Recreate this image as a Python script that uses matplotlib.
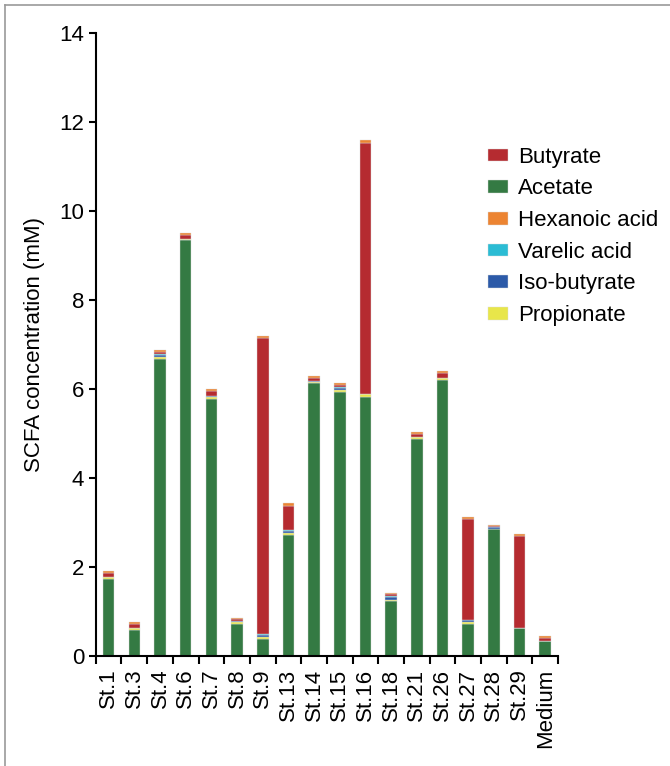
import numpy as np
import matplotlib.pyplot as plt
from matplotlib.lines import Line2D

plt.rcParams['font.family'] = ['Liberation Sans', 'DejaVu Sans']

# Штами
strains = ['St.1', 'St.3', 'St.4', 'St.6', 'St.7', 'St.8', 'St.9', 'St.13', 'St.14',
           'St.15', 'St.16', 'St.18', 'St.21', 'St.26', 'St.27', 'St.28', 'St.29', 'Medium']

# Концентрації (mM), знизу вгору
acetate    = [1.72, 0.58, 6.68, 9.35, 5.78, 0.73, 0.38, 2.73, 6.13, 5.93, 5.83, 1.23, 4.88, 6.20, 0.72, 2.85, 0.63, 0.33]
propionate = [0.05, 0.04, 0.04, 0.03, 0.04, 0.03, 0.05, 0.04, 0.04, 0.04, 0.06, 0.04, 0.04, 0.04, 0.04, 0.01, 0.01, 0.01]
isobutyr   = [0.01, 0.01, 0.05, 0.00, 0.03, 0.02, 0.05, 0.04, 0.02, 0.06, 0.01, 0.06, 0.01, 0.02, 0.04, 0.04, 0.00, 0.00]
varelic    = [0.00, 0.00, 0.02, 0.00, 0.00, 0.00, 0.01, 0.02, 0.00, 0.02, 0.00, 0.02, 0.00, 0.00, 0.02, 0.00, 0.00, 0.00]
butyrate   = [0.09, 0.09, 0.05, 0.08, 0.10, 0.05, 6.65, 0.55, 0.06, 0.05, 5.64, 0.04, 0.06, 0.10, 2.27, 0.02, 2.06, 0.06]
hexanoic   = [0.04, 0.05, 0.04, 0.05, 0.05, 0.03, 0.05, 0.06, 0.04, 0.03, 0.05, 0.03, 0.04, 0.05, 0.04, 0.02, 0.04, 0.04]

series = [
    ('Acetate', acetate, '#347a43'),
    ('Propionate', propionate, '#e8e64a'),
    ('Iso-butyrate', isobutyr, '#2c5aa8'),
    ('Varelic acid', varelic, '#2bbcd4'),
    ('Butyrate', butyrate, '#b52b30'),
    ('Hexanoic acid', hexanoic, '#ec8432'),
]
legend_order = ['Butyrate', 'Acetate', 'Hexanoic acid', 'Varelic acid', 'Iso-butyrate', 'Propionate']

fig = plt.figure(figsize=(6.7, 7.66), dpi=100)
ax = fig.add_axes([0.143, 0.1436, 0.69, 0.813])

x = np.arange(len(strains))
bottom = np.zeros(len(strains))
handles = {}
for name, vals, col in series:
    vals = np.array(vals)
    b = ax.bar(x, vals, width=0.45, bottom=bottom, color=col,
               edgecolor='#dddddd', linewidth=0.3, label=name)
    handles[name] = b
    bottom += vals

ax.set_xlim(-0.5, len(strains) - 0.5)
ax.set_ylim(0, 14)
ax.set_yticks(range(0, 15, 2))
ax.tick_params(axis='y', labelsize=16, length=5, width=1.5, direction='out')

ax.set_xticks(x)
ax.set_xticklabels(strains, rotation=90, fontsize=16)
ax.tick_params(axis='x', which='major', length=0, pad=9)
ax.set_xticks(np.arange(-0.5, len(strains), 1), minor=True)
ax.tick_params(axis='x', which='minor', length=6, width=1.5, direction='out')

for s in ['top', 'right']:
    ax.spines[s].set_visible(False)
for s in ['left', 'bottom']:
    ax.spines[s].set_linewidth(1.5)

ax.set_ylabel('SCFA concentration (mM)', fontsize=16, labelpad=10)

ax.legend([handles[n] for n in legend_order], legend_order, loc='upper left',
          bbox_to_anchor=(0.83, 0.832), frameon=False, fontsize=16,
          handlelength=0.9, handleheight=0.5, handletextpad=0.45,
          labelspacing=0.48, borderaxespad=0)

# рамка
fig.add_artist(Line2D([0.007, 0.007], [0, 0.993], color='#999999', lw=1.2, transform=fig.transFigure))
fig.add_artist(Line2D([0.007, 1], [0.993, 0.993], color='#999999', lw=1.2, transform=fig.transFigure))

fig.savefig('out.png', dpi=100)
